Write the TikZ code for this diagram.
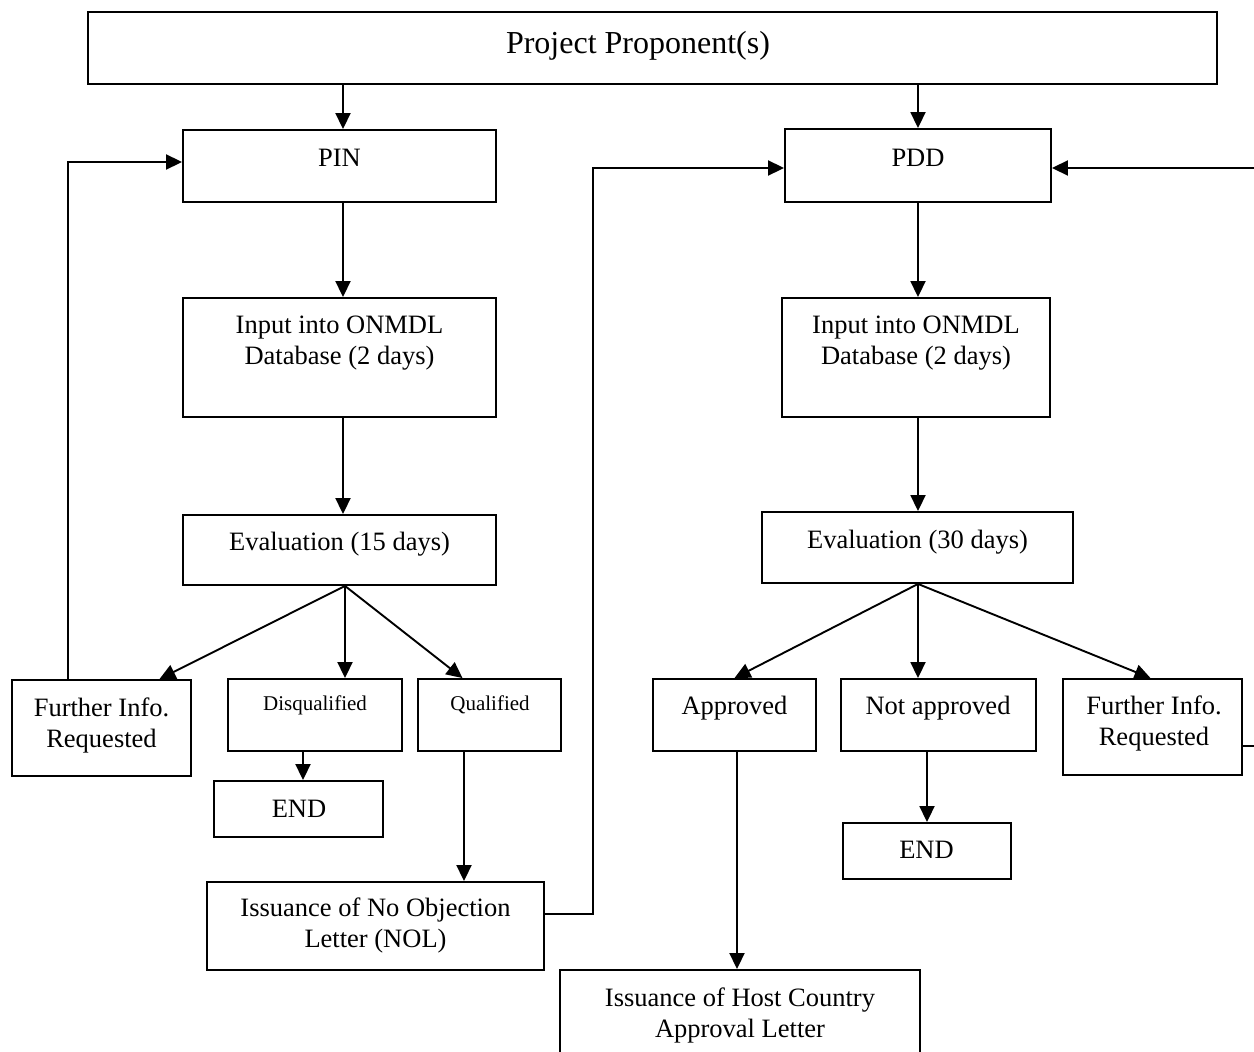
\documentclass[tikz,border=0pt]{standalone}
\usepackage{fontspec}
\setmainfont{Liberation Serif}
\usetikzlibrary{arrows.meta,fit}
\begin{document}
\begin{tikzpicture}[x=1pt,y=-1pt,
  box/.style={draw,line width=1.9pt,inner sep=0pt},
  txt/.style={anchor=base,inner sep=0pt,align=center,font=\fontsize{26.5}{31}\selectfont},
  sml/.style={anchor=base,inner sep=0pt,font=\fontsize{21}{25}\selectfont},
  big/.style={anchor=base,inner sep=0pt,font=\fontsize{32}{38}\selectfont},
  arr/.style={line width=1.9pt,-{Triangle[length=16pt,width=15pt]}}]
\path[use as bounding box,clip] (0,0) rectangle (1254,1052);
\fill[white] (0,0) rectangle (1254,1052);

% boxes
\node[box,fit={(88,12) (1217,84)}] (top) {};
\node[box,fit={(183,130) (496,202)}] (pin) {};
\node[box,fit={(785,129) (1051,202)}] (pdd) {};
\node[box,fit={(183,298) (496,417)}] (inL) {};
\node[box,fit={(782,298) (1050,417)}] (inR) {};
\node[box,fit={(183,515) (496,585)}] (evL) {};
\node[box,fit={(762,512) (1073,583)}] (evR) {};
\node[box,fit={(12,680) (191,776)}] (fiL) {};
\node[box,fit={(228,679) (402,751)}] (dis) {};
\node[box,fit={(418,679) (561,751)}] (qua) {};
\node[box,fit={(214,781) (383,837)}] (endL) {};
\node[box,fit={(207,882) (544,970)}] (nol) {};
\node[box,fit={(653,679) (816,751)}] (app) {};
\node[box,fit={(841,679) (1036,751)}] (nap) {};
\node[box,fit={(1063,679) (1242,775)}] (fiR) {};
\node[box,fit={(843,823) (1011,879)}] (endR) {};
\node[box,fit={(560,970) (920,1075)}] (host) {};

% texts (multi-line nodes: base = last line)
\node[big] (top-t) at (638,53) {Project Proponent(s)};
\node[txt] (pin-t) at (339.5,166) {PIN};
\node[txt] (pdd-t) at (918,166) {PDD};
\node[txt] (inL-t) at (339.5,364) {Input into ONMDL\\Database (2 days)};
\node[txt] (inR-t) at (916,364) {Input into ONMDL\\Database (2 days)};
\node[txt] (evL-t) at (339.5,550) {Evaluation (15 days)};
\node[txt] (evR-t) at (917.5,548) {Evaluation (30 days)};
\node[txt] (fiL-t) at (101.5,747) {Further Info.\\Requested};
\node[sml] (dis-t) at (315,710) {Disqualified};
\node[sml] (qua-t) at (490,710) {Qualified};
\node[txt] (endL-t) at (299,817) {END};
\node[txt] (nol-t) at (375.5,947) {Issuance of No Objection\\Letter (NOL)};
\node[txt] (app-t) at (734.5,714) {Approved};
\node[txt] (nap-t) at (938,714) {Not approved};
\node[txt] (fiR-t) at (1154,745) {Further Info.\\Requested};
\node[txt] (endR-t) at (926.5,858) {END};
\node[txt] (host-t) at (740,1037) {Issuance of Host Country\\Approval Letter};

% connectors
\draw[arr] ([xshift=3.5pt]pin.north |- top.south) -- ([xshift=3.5pt]pin.north);
\draw[arr] (pdd.north |- top.south) -- (pdd.north);
\draw[arr] ([xshift=3.5pt]pin.south) -- ([xshift=3.5pt]pin.south |- inL.north);
\draw[arr] ([xshift=3.5pt]inL.south) -- ([xshift=3.5pt]inL.south |- evL.north);
\coordinate (sL) at ([xshift=5.5pt]evL.south);
\draw[arr] (sL) -- ([xshift=58pt]fiL.north);
\draw[arr] (sL) -- (sL |- dis.north);
\draw[arr] (sL) -- ([xshift=-27pt]qua.north);
\draw[arr] ([xshift=-12pt]dis.south) -- ([xshift=-12pt]dis.south |- endL.north);
\draw[arr] ([xshift=-25.5pt]qua.south) -- ([xshift=-25.5pt]qua.south |- nol.north);
\draw[arr] ([yshift=12pt]nol.east) -- ++(48,0) |- ([yshift=-2.5pt]pdd.west);
\draw[arr] ([xshift=-33.5pt]fiL.north) |- ([yshift=4pt]pin.west);
\draw[arr] (pdd.south) -- (pdd.south |- inR.north);
\draw[arr] ([xshift=2pt]inR.south) -- ([xshift=2pt]inR.south |- evR.north);
\coordinate (sR) at ([xshift=0.5pt]evR.south);
\draw[arr] (sR) -- (app.north);
\draw[arr] (sR) -- (sR |- nap.north);
\draw[arr] (sR) -- ([xshift=-2pt]fiR.north);
\draw[arr] ([xshift=2.5pt]app.south) -- ([xshift=2.5pt]app.south |- host.north);
\draw[arr] (endR.north |- nap.south) -- (endR.north);
\draw[arr] ([yshift=-19pt]fiR.east) -- ++(30,0) |- ([yshift=-2.5pt]pdd.east);
\end{tikzpicture}
\end{document}
